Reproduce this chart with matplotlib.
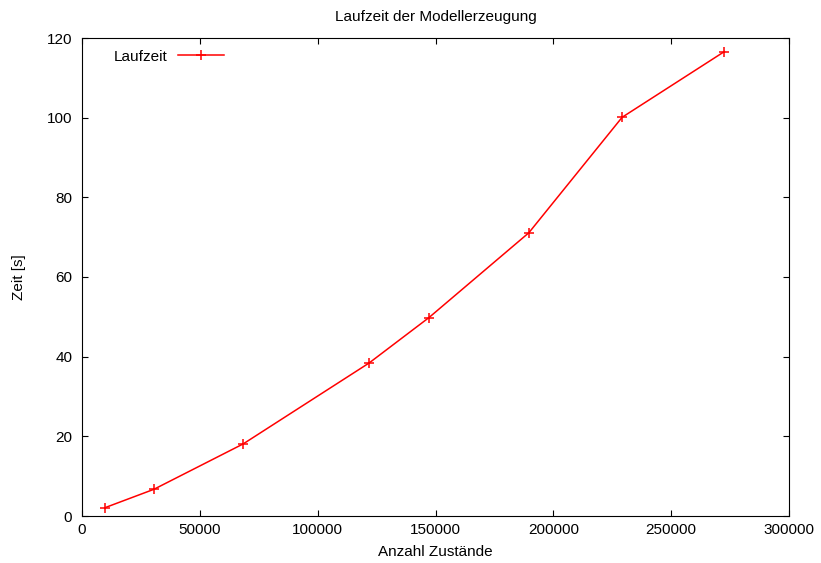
import numpy as np
import matplotlib.pyplot as plt

# Laufzeit der Modellerzeugung (gnuplot look)
zustaende = [9800, 30500, 68400, 121800, 147200, 189600, 229200, 272600]
laufzeit = [2.1, 6.7, 18.1, 38.4, 49.8, 71.1, 100.1, 116.6]

xTicks = [0, 50000, 100000, 150000, 200000, 250000, 300000]
yTicks = [0, 20, 40, 60, 80, 100, 120]

plt.rcParams['font.family'] = ['Liberation Sans', 'DejaVu Sans']
fs = 11

fig = plt.figure(figsize=(8.21, 5.63), dpi=100)
ax = fig.add_axes([82/821, 1 - 516/563, 707/821, 478/563])

ax.plot(zustaende, laufzeit, color='#ff0000', linewidth=1.1, marker='+',
        markersize=7, markeredgewidth=1.1, label='Laufzeit')

ax.set_xlim(0, 300000)
ax.set_ylim(0, 120)
ax.set_xticks(xTicks)
ax.set_yticks(yTicks)
ax.set_xticklabels([str(v) for v in xTicks])
ax.set_yticklabels([str(v) for v in yTicks])
ax.tick_params(direction='in', length=4.5, width=0.8, top=True, right=True,
               colors='black', labelsize=fs)
ax.tick_params(axis='x', pad=5)
ax.tick_params(axis='y', pad=7)
for s in ax.spines.values():
    s.set_linewidth(0.8)

ax.set_title('Laufzeit der Modellerzeugung', fontsize=fs, pad=12)
ax.set_xlabel('Anzahl Zustände', fontsize=fs, labelpad=6)
ax.set_ylabel('Zeit [s]', fontsize=fs, labelpad=15)

ax.legend(loc='upper left', bbox_to_anchor=(0.025, 1.004), frameon=False,
          markerfirst=False, handlelength=3.0, handletextpad=0.7, fontsize=fs)

fig.savefig('out.png', dpi=100)
